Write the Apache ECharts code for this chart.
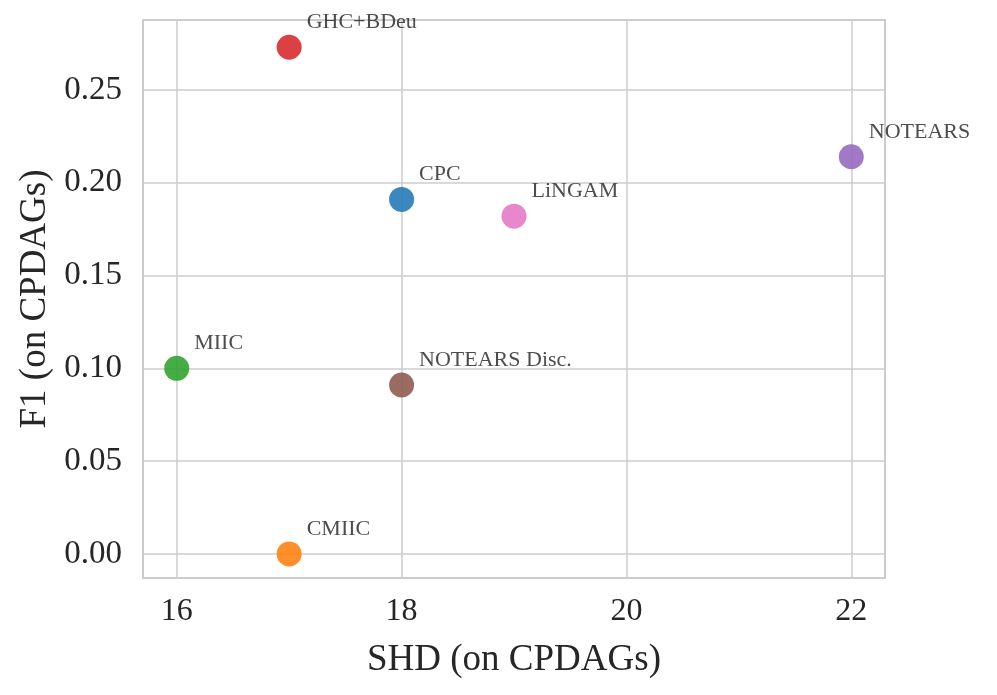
<!DOCTYPE html>
<html>
<head>
<meta charset="utf-8">
<title>SHD vs F1</title>
<script src="https://cdn.jsdelivr.net/npm/echarts@6/dist/echarts.min.js"></script>
<style>
  html, body { margin: 0; padding: 0; background: #fff; }
  #main { width: 997px; height: 695px; }
</style>
</head>
<body>
<div id="main"></div>
<script>
// methods, SHD and F1
var methods = ['GHC+BDeu', 'NOTEARS', 'CPC', 'LiNGAM', 'MIIC', 'NOTEARS Disc.', 'CMIIC'];
var shdValues = [17, 22, 18, 19, 16, 18, 17];
var f1Values = [0.273, 0.214, 0.191, 0.182, 0.100, 0.091, 0.000];
var pointColors = ['#d62728', '#9467bd', '#1f77b4', '#e377c2', '#2ca02c', '#8c564b', '#ff7f0e'];

var fontName = '"Liberation Serif", "DejaVu Serif", serif';
var textColor = '#262626';

var seriesData = [];
for (var i = 0; i < methods.length; i++) {
  seriesData.push({
    name: methods[i],
    value: [shdValues[i], f1Values[i]],
    itemStyle: { color: pointColors[i], opacity: 0.88 }
  });
}

var myChart = echarts.init(document.getElementById('main'));
var option = {
  backgroundColor: '#ffffff',
  animation: false,
  grid: {
    left: 143,
    right: 112,
    top: 20,
    bottom: 117,
    show: true,
    borderColor: '#cccccc',
    borderWidth: 2,
    backgroundColor: 'transparent'
  },
  xAxis: {
    type: 'value',
    min: 15.7,
    max: 22.3,
    splitNumber: 3,
    name: 'SHD (on CPDAGs)',
    nameLocation: 'middle',
    nameGap: 64,
    nameTextStyle: { fontFamily: fontName, fontSize: 37, color: textColor },
    axisLine: { show: false },
    axisTick: { show: false },
    axisLabel: {
      margin: 18,
      fontFamily: fontName,
      fontSize: 32,
      color: textColor,
      showMinLabel: false,
      showMaxLabel: false
    },
    splitLine: { show: true, lineStyle: { color: '#cccccc', width: 1.5 } }
  },
  yAxis: {
    type: 'value',
    min: -0.013,
    max: 0.2877,
    splitNumber: 6,
    name: 'F1 (on CPDAGs)',
    nameLocation: 'middle',
    nameGap: 86,
    nameTextStyle: { fontFamily: fontName, fontSize: 37, color: textColor },
    axisLine: { show: false },
    axisTick: { show: false },
    axisLabel: {
      margin: 21,
      fontFamily: fontName,
      fontSize: 33,
      color: textColor,
      showMinLabel: false,
      showMaxLabel: false,
      formatter: function (v) { return v.toFixed(2); }
    },
    splitLine: { show: true, lineStyle: { color: '#cccccc', width: 1.5 } }
  },
  series: [
    {
      type: 'scatter',
      symbolSize: 25,
      data: seriesData,
      label: {
        show: true,
        position: 'right',
        distance: 5,
        offset: [0, -25],
        formatter: '{b}',
        fontFamily: fontName,
        fontSize: 22,
        color: '#333333'
      }
    }
  ]
};
option && myChart.setOption(option);
</script>
</body>
</html>
